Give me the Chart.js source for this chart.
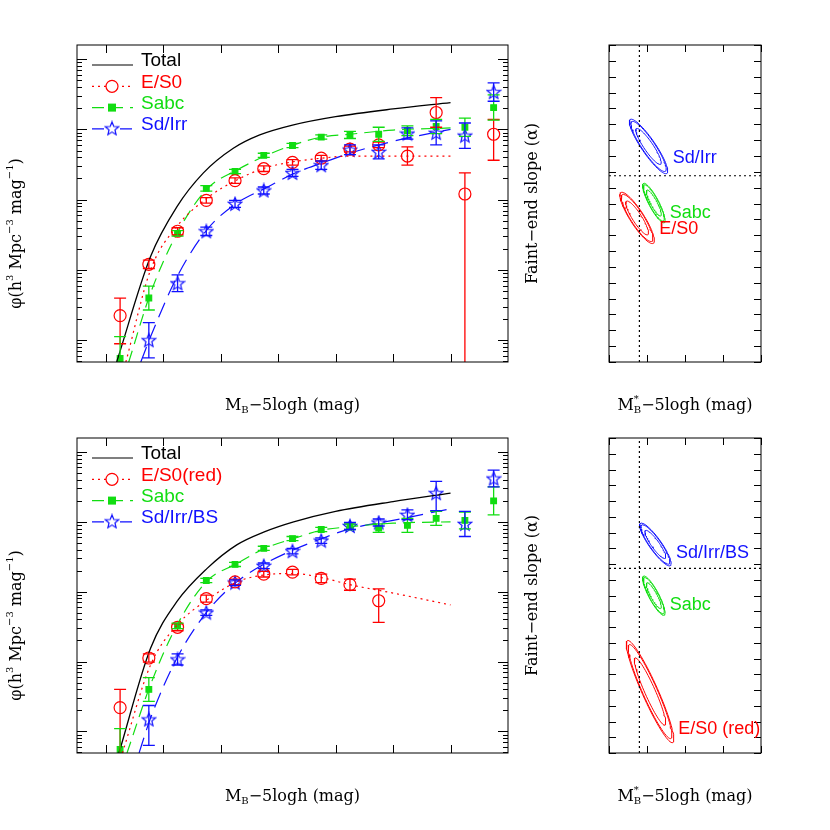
<!DOCTYPE html>
<html><head><meta charset="utf-8">
<script src="https://cdn.jsdelivr.net/npm/chart.js@4/dist/chart.umd.min.js"></script>
<style>body{margin:0;background:#fff}canvas{position:absolute;left:0;top:0;width:830px;height:830px}</style>
</head><body>
<canvas id="c1" width="830" height="830"></canvas><canvas id="c2" width="830" height="830"></canvas><canvas id="c3" width="830" height="830"></canvas><canvas id="c4" width="830" height="830"></canvas>
<script>
// ---------- DATA (log10 phi) ----------
const magBins = [-21.75,-21.25,-20.75,-20.25,-19.75,-19.25,-18.75,-18.25,-17.75,-17.25,-16.75,-16.25,-15.75,-15.25];
const yTickValues = [1e-5,1e-4,1e-3,1e-2,1e-1];
const yTickLabels = ['10\u207B\u2075','0.0001','0.001','0.01','0.1'];

const topES0   = [-4.65,-3.92,-3.45,-3.01,-2.73,-2.56,-2.47,-2.41,-2.28,-2.22,-2.38,-1.76,-2.92,-2.07];
const topES0Lo = [0.40,0.06,0.05,0.04,0.04,0.04,0.04,0.04,0.04,0.04,0.13,0.21,3.0,0.37];
const topES0Hi = [0.25,0.06,0.05,0.04,0.04,0.04,0.04,0.04,0.04,0.04,0.13,0.21,0.30,0.21];
const topSabc   = [-5.26,-4.40,-3.48,-2.84,-2.60,-2.37,-2.23,-2.11,-2.08,-2.07,-2.02,-1.96,-1.97,-1.69];
const topSabcEr = [0.31,0.17,0.04,0.04,0.03,0.03,0.03,0.03,0.05,0.10,0.07,0.10,0.13,0.18];
const topSd   = [null,-5.00,-4.19,-3.45,-3.06,-2.87,-2.62,-2.51,-2.29,-2.32,-2.06,-2.05,-2.09,-1.47];
const topSdEr = [0,0.25,0.12,0.06,0.05,0.05,0.05,0.06,0.07,0.10,0.08,0.17,0.18,0.13];

const topTotX = [-21.81,-21.22,-20.76,-20.30,-19.78,-19.32,-18.75,-18.0,-17.0,-16.0];
const topTotY = [-5.31,-3.81,-3.10,-2.62,-2.27,-2.08,-1.94,-1.82,-1.71,-1.62];
const topFitRX = [-21.65,-21.22,-20.76,-20.24,-19.72,-19.23,-18.73,-18.24,-17.75,-16.0];
const topFitRY = [-5.31,-4.00,-3.38,-2.98,-2.72,-2.55,-2.46,-2.41,-2.38,-2.38];
const topFitGX = [-21.6,-21.22,-20.76,-20.24,-19.72,-19.23,-18.73,-18.24,-17.75,-17.0,-16.0];
const topFitGY = [-5.31,-4.33,-3.48,-2.85,-2.58,-2.38,-2.22,-2.11,-2.07,-2.01,-1.98];
const topFitBX = [-21.39,-21.22,-20.76,-20.24,-19.72,-19.23,-18.73,-18.24,-17.75,-17.0,-16.0];
const topFitBY = [-5.31,-4.95,-4.10,-3.43,-3.05,-2.84,-2.63,-2.48,-2.34,-2.17,-2.00];

const botES0   = [-4.66,-3.95,-3.51,-3.10,-2.86,-2.75,-2.72,-2.81,-2.90,-3.13,null,null,null,null];
const botES0Lo = [0.70,0.06,0.05,0.05,0.04,0.04,0.04,0.06,0.08,0.31,0,0,0,0];
const botES0Hi = [0.26,0.06,0.05,0.05,0.04,0.04,0.04,0.06,0.08,0.17,0,0,0,0];
const botSabc   = [-5.26,-4.40,-3.49,-2.84,-2.61,-2.38,-2.24,-2.11,-2.07,-2.09,-2.05,-1.95,-1.98,-1.70];
const botSabcEr = [0.30,0.17,0.04,0.03,0.03,0.03,0.03,0.03,0.04,0.06,0.10,0.10,0.12,0.20];
const botSd   = [null,-4.83,-3.97,-3.30,-2.87,-2.63,-2.42,-2.27,-2.06,-2.01,-1.90,-1.59,-2.03,-1.38];
const botSdLo = [0,0.37,0.08,0.04,0.04,0.04,0.04,0.04,0.05,0.05,0.07,0.25,0.18,0.12];
const botSdHi = [0,0.20,0.08,0.04,0.04,0.04,0.04,0.04,0.05,0.05,0.07,0.17,0.18,0.12];

const botTotX = [-21.77,-21.22,-20.76,-20.24,-19.72,-19.23,-18.73,-18.0,-17.0,-16.0];
const botTotY = [-5.31,-3.81,-3.14,-2.67,-2.33,-2.14,-2.00,-1.85,-1.71,-1.59];
const botFitRX = [-21.71,-21.22,-20.76,-20.24,-19.72,-19.23,-18.73,-18.24,-17.75,-17.0,-16.0];
const botFitRY = [-5.31,-4.05,-3.48,-3.12,-2.86,-2.76,-2.74,-2.80,-2.90,-3.02,-3.19];
const botFitGX = [-21.63,-21.22,-20.76,-20.24,-19.72,-19.23,-18.73,-18.24,-17.75,-17.0,-16.0];
const botFitGY = [-5.31,-4.33,-3.48,-2.85,-2.60,-2.38,-2.24,-2.12,-2.07,-2.02,-2.00];
const botFitBX = [-21.42,-21.22,-20.76,-20.24,-19.72,-19.23,-18.73,-18.24,-17.75,-17.0,-16.04];
const botFitBY = [-5.31,-4.81,-3.95,-3.29,-2.86,-2.60,-2.40,-2.24,-2.10,-1.98,-1.82];

// Confidence ellipses: centre [M*, alpha], semi-major vector, semi-minor vector (outer contour)
const topEllSd   = {c:[-19.48,-1.36], a:[0.241,0.170], b:[0.076,-0.025]};
const topEllSabc = {c:[-19.41,-1.003], a:[0.136,0.124], b:[0.059,-0.0145]};
const topEllES0  = {c:[-19.63,-0.909], a:[0.213,0.160], b:[0.078,-0.024]};
const botEllSd   = {c:[-19.39,-1.324], a:[0.197,0.134], b:[0.065,-0.022]};
const botEllSabc = {c:[-19.41,-0.999], a:[0.136,0.124], b:[0.059,-0.0145]};
const botEllES0  = {c:[-19.46,-0.39], a:[0.298,0.324], b:[0.096,-0.020]};
const contourScales = [0.66,0.92,1.0];
const refMstar = -19.6, refAlphaTop = -1.175, refAlphaBot = -1.172;

const RED='#ff0000', GREEN='#11dd11', BLUE='#1010ff';
Chart.defaults.font.family = 'Liberation Sans';
Chart.defaults.color = '#000';

function starImg(color){
  const c=document.createElement('canvas'); c.width=16;c.height=16;
  const g=c.getContext('2d'); g.strokeStyle=color; g.lineWidth=1.2; g.beginPath();
  for(let i=0;i<10;i++){const r=i%2?3.1:7; const t=-Math.PI/2+i*Math.PI/5;
    const x=8+r*Math.cos(t), y=8.5+r*Math.sin(t); i?g.lineTo(x,y):g.moveTo(x,y);}
  g.closePath(); g.stroke(); return c;
}
const STAR = starImg(BLUE);

const pts = (ys)=>magBins.map((x,i)=>ys[i]==null?null:{x, y:Math.pow(10,ys[i])}).filter(p=>p);
const line = (xs,ys)=>xs.map((x,i)=>({x,y:Math.pow(10,ys[i])}));
const errs = (ys,lo,hi)=>magBins.map((x,i)=>ys[i]==null?null:{x,v:ys[i],lo:lo[i],hi:hi[i]}).filter(p=>p);

function ptsDS(ys,color,style,err,radius){
  return {data:pts(ys), showLine:false, borderColor:color, backgroundColor:style==='rect'?color:'transparent',
    pointStyle: style==='star'?STAR:style, pointRadius:radius, borderWidth:1.2, errBars:err};
}
function fitDS(xs,ys,color,dash,w){
  return {data:line(xs,ys), showLine:true, pointRadius:0, borderColor:color, borderWidth:w||1.2,
    borderDash:dash, cubicInterpolationMode:'monotone', fill:false};
}
function ellDS(e,color){
  return contourScales.map(s=>{
    const d=[]; for(let k=0;k<=72;k++){const t=k/72*2*Math.PI;
      d.push({x:e.c[0]+s*(e.a[0]*Math.cos(t)+e.b[0]*Math.sin(t)), y:e.c[1]+s*(e.a[1]*Math.cos(t)+e.b[1]*Math.sin(t))});}
    return {data:d, showLine:true, pointRadius:0, borderColor:color, borderWidth:1, tension:0};
  });
}

const errPlugin = {id:'err', afterDatasetsDraw(ch){
  const g=ch.ctx, xs=ch.scales.x, ys=ch.scales.y, A=ch.chartArea;
  g.save(); g.beginPath(); g.rect(A.left,A.top,A.right-A.left,A.bottom-A.top); g.clip();
  ch.data.datasets.forEach(ds=>{ if(!ds.errBars) return;
    g.strokeStyle=ds.borderColor; g.lineWidth=1.3;
    ds.errBars.forEach(p=>{ const x=xs.getPixelForValue(p.x);
      const y1=ys.getPixelForValue(Math.pow(10,p.v-p.lo)), y2=ys.getPixelForValue(Math.pow(10,p.v+p.hi));
      g.beginPath(); g.moveTo(x,y1); g.lineTo(x,y2);
      g.moveTo(x-6,y1); g.lineTo(x+6,y1); g.moveTo(x-6,y2); g.lineTo(x+6,y2); g.stroke(); });
  });
  g.restore();
}};

function tickPlugin(kind){ return {id:'tk', afterDraw(ch){
  const g=ch.ctx, A=ch.chartArea, xs=ch.scales.x, ys=ch.scales.y;
  g.save(); g.strokeStyle='#000'; g.lineWidth=1;
  g.strokeRect(A.left,A.top,A.right-A.left,A.bottom-A.top);
  g.beginPath();
  if(kind==='lf'){
    for(let m=-22;m<=-16;m++){const x=Math.round(xs.getPixelForValue(m))+0.5;
      g.moveTo(x,A.bottom);g.lineTo(x,A.bottom-8);g.moveTo(x,A.top);g.lineTo(x,A.top+8);}
    for(let d=-6;d<=-1;d++) for(let k=1;k<=9;k++){const v=k*Math.pow(10,d);
      if(v<ys.min||v>ys.max) continue; const y=Math.round(ys.getPixelForValue(v))+0.5, L=k===1?10:5;
      g.moveTo(A.left,y);g.lineTo(A.left+L,y);g.moveTo(A.right,y);g.lineTo(A.right-L,y);}
  } else {
    for(let i=0;i<=4;i++){const x=Math.round(xs.getPixelForValue(-20+0.5*i))+0.5;
      g.moveTo(x,A.bottom);g.lineTo(x,A.bottom-7);g.moveTo(x,A.top);g.lineTo(x,A.top+7);}
    for(let i=0;i<=20;i++){const y=Math.round(ys.getPixelForValue(-i/10))+0.5;
      g.moveTo(A.left,y);g.lineTo(A.left+7,y);g.moveTo(A.right,y);g.lineTo(A.right-7,y);}
  }
  g.stroke(); g.restore();
}};}

function textPlugin(draw){ return {id:'tx', afterDraw(ch){ const g=ch.ctx; g.save(); draw(g,ch); g.restore(); }}; }

function xTitleLF(g,cx,y,star){
  g.fillStyle='#000'; g.textBaseline='alphabetic';
  const big='16px "DejaVu Serif"', small='10px "DejaVu Serif"';
  const p1='M', p2='\u2212'+'5logh (mag)';
  g.font=big; const w1=g.measureText(p1).width, w3=g.measureText(p2).width;
  g.font=small; const w2=g.measureText('B').width;
  let x=cx-(w1+w2+w3)/2;
  g.font=big; g.textAlign='left'; g.fillText(p1,x,y); x+=w1;
  g.font=small; g.fillText('B',x,y+3); if(star) g.fillText('*',x,y-8); x+=w2;
  g.font=big; g.fillText(p2,x,y);
}
function yTitle(g,x,cy,parts){
  g.translate(x,cy); g.rotate(-Math.PI/2); g.fillStyle='#000'; g.textBaseline='middle';
  let tot=0; parts.forEach(p=>{g.font=p[1]?'10px "DejaVu Serif"':'16px "DejaVu Serif"'; tot+=g.measureText(p[0]).width;});
  let xx=-tot/2; g.textAlign='left';
  parts.forEach(p=>{g.font=p[1]?'10px "DejaVu Serif"':'16px "DejaVu Serif"'; g.fillText(p[0],xx,p[1]?-7:0); xx+=g.measureText(p[0]).width;});
}
function legend(g,y0,names){
  const rows=[['#000',[],null],[RED,[2,4],'circle'],[GREEN,[12,7],'rect'],[BLUE,[16,8],'star']];
  rows.forEach((r,i)=>{const y=y0+i*21.3;
    g.strokeStyle=r[0]; g.lineWidth=1.2; g.setLineDash(r[1]); g.beginPath(); g.moveTo(92,y);g.lineTo(133,y);g.stroke(); g.setLineDash([]);
    if(r[2]==='circle'){g.beginPath();g.arc(112,y,6,0,2*Math.PI);g.fillStyle='#fff';g.fill();g.stroke();}
    if(r[2]==='rect'){g.fillStyle=GREEN;g.fillRect(108,y-4,8,8);}
    if(r[2]==='star'){g.fillStyle='#fff';g.fillRect(104,y-7,16,14);g.drawImage(STAR,104,y-8.5);}
    g.fillStyle=i===0?'#000':r[0]; g.font='19px "Liberation Sans"'; g.textAlign='left'; g.textBaseline='middle';
    g.fillText(names[i],141,y-4);
  });
}

const hideGrid={display:false};
function lfChart(id,area,dsets,names,legY){
  const [l,t,r,b]=area;
  return new Chart(document.getElementById(id),{type:'scatter',
    data:{datasets:dsets},
    options:{responsive:false,devicePixelRatio:1,animation:false,events:[],
      layout:{padding:{left:l,top:t,right:830-r,bottom:830-b}},
      plugins:{legend:{display:false},tooltip:{enabled:false}},
      scales:{
        x:{type:'linear',min:-22.5,max:-15,grid:hideGrid,border:{display:false},
          afterFit:s=>{s.height=0;},
          afterBuildTicks:s=>{s.ticks=[-22,-20,-18,-16].map(v=>({value:v}));},
          ticks:{font:{size:15},padding:10,callback:v=>String(v)}},
        y:{type:'logarithmic',min:Math.pow(10,-5.31),max:Math.pow(10,-0.8),grid:hideGrid,border:{display:false},
          afterFit:s=>{s.width=0;},
          afterBuildTicks:s=>{s.ticks=yTickValues.map(v=>({value:v}));},
          ticks:{font:{size:15},padding:14,callback:(v)=>{const i=yTickValues.findIndex(u=>Math.abs(u-v)/u<1e-6);return i<0?'':yTickLabels[i];}}}
      }},
    plugins:[errPlugin,tickPlugin('lf'),textPlugin((g,ch)=>{
      legend(g,legY,names);
      xTitleLF(g,(l+r)/2,b+48,false);
      yTitle(g,17,(t+b)/2+30,[['\u03C6(h',0],['3',1],[' Mpc',0],['\u22123',1],[' mag',0],['\u22121',1],[')',0]]);
    })]
  });
}
function ellChart(id,area,dsets,step,labels,refA){
  const [l,t,r,b]=area;
  return new Chart(document.getElementById(id),{type:'scatter',
    data:{datasets:[
      {data:[{x:refMstar,y:0},{x:refMstar,y:-2}],showLine:true,pointRadius:0,borderColor:'#000',borderWidth:1.2,borderDash:[2,3]},
      {data:[{x:-20,y:refA},{x:-18,y:refA}],showLine:true,pointRadius:0,borderColor:'#000',borderWidth:1.2,borderDash:[2,3]},
      ...dsets]},
    options:{responsive:false,devicePixelRatio:1,animation:false,events:[],
      layout:{padding:{left:l,top:t,right:830-r,bottom:830-b}},
      plugins:{legend:{display:false},tooltip:{enabled:false}},
      scales:{
        x:{type:'linear',min:-20,max:-18,grid:hideGrid,border:{display:false},afterFit:s=>{s.height=0;},
          afterBuildTicks:s=>{s.ticks=[-20,-19,-18].map(v=>({value:v}));},
          ticks:{font:{size:15},padding:10,callback:v=>String(v)}},
        y:{type:'linear',min:-2,max:0,reverse:true,grid:hideGrid,border:{display:false},afterFit:s=>{s.width=0;},
          afterBuildTicks:s=>{const a=[];for(let v=0;v<=2.0001;v+=step)a.push({value:-Math.round(v*10)/10});s.ticks=a;},
          ticks:{font:{size:15},padding:14,callback:v=>String(Math.round(v*10)/10)}}
      }},
    plugins:[tickPlugin('ell'),textPlugin((g,ch)=>{
      const xs=ch.scales.x, ys=ch.scales.y;
      g.font='18px "Liberation Sans"'; g.textAlign='left'; g.textBaseline='middle';
      labels.forEach(L=>{g.fillStyle=L[3]; g.fillText(L[0],xs.getPixelForValue(L[1]),ys.getPixelForValue(L[2]));});
      xTitleLF(g,(l+r)/2,b+48,true);
      g.translate(537,(t+b)/2); g.rotate(-Math.PI/2); g.font='16px "DejaVu Serif"'; g.fillStyle='#000'; g.textAlign='center';
      g.fillText('Faint\u2212end slope (\u03B1)',0,0);
    })]
  });
}

lfChart('c1',[77,45,508,362],[
  fitDS(topTotX,topTotY,'#000',[],1.3),
  fitDS(topFitRX,topFitRY,RED,[2,4]),
  fitDS(topFitGX,topFitGY,GREEN,[12,7]),
  fitDS(topFitBX,topFitBY,BLUE,[16,8]),
  ptsDS(topES0,RED,'circle',errs(topES0,topES0Lo,topES0Hi),6),
  ptsDS(topSabc,GREEN,'rect',errs(topSabc,topSabcEr,topSabcEr),4),
  ptsDS(topSd,BLUE,'star',errs(topSd,topSdEr,topSdEr),8)
],['Total','E/S0','Sabc','Sd/Irr'],65);

lfChart('c2',[77,438,508,753],[
  fitDS(botTotX,botTotY,'#000',[],1.3),
  fitDS(botFitRX,botFitRY,RED,[2,4]),
  fitDS(botFitGX,botFitGY,GREEN,[12,7]),
  fitDS(botFitBX,botFitBY,BLUE,[16,8]),
  ptsDS(botES0,RED,'circle',errs(botES0,botES0Lo,botES0Hi),6),
  ptsDS(botSabc,GREEN,'rect',errs(botSabc,botSabcEr,botSabcEr),4),
  ptsDS(botSd,BLUE,'star',errs(botSd,botSdLo,botSdHi),8)
],['Total','E/S0(red)','Sabc','Sd/Irr/BS'],458);

ellChart('c3',[609,45,761,362],[...ellDS(topEllSd,BLUE),...ellDS(topEllSabc,GREEN),...ellDS(topEllES0,RED)],0.2,
  [['Sd/Irr',-19.16,-1.29,BLUE],['Sabc',-19.20,-0.94,GREEN],['E/S0',-19.34,-0.84,RED]],refAlphaTop);
ellChart('c4',[609,438,761,753],[...ellDS(botEllSd,BLUE),...ellDS(botEllSabc,GREEN),...ellDS(botEllES0,RED)],0.5,
  [['Sd/Irr/BS',-19.12,-1.27,BLUE],['Sabc',-19.20,-0.937,GREEN],['E/S0 (red)',-19.09,-0.15,RED]],refAlphaBot);
</script>
</body></html>
